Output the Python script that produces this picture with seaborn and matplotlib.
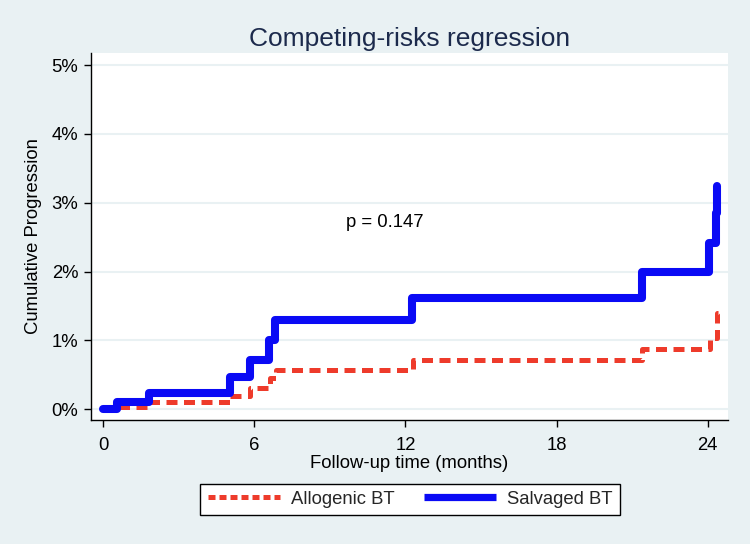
import matplotlib
matplotlib.use("Agg")
import matplotlib.pyplot as plt
import seaborn as sns
import pandas as pd
from matplotlib.ticker import FuncFormatter
from matplotlib.lines import Line2D

# Follow-up time (months) and cumulative progression (%)
salvaged_time = [0, 0.55, 1.8, 5.04, 5.83, 6.59, 6.83, 12.26, 21.4, 24.05, 24.33, 24.38]
salvaged_pct = [0, 0.10, 0.23, 0.47, 0.72, 1.00, 1.30, 1.62, 2.00, 2.42, 2.85, 3.24]
allogenic_time = [0, 0.6, 1.8, 5.04, 5.83, 6.6, 6.85, 12.3, 21.4, 24.1, 24.38, 24.42]
allogenic_pct = [0, 0.03, 0.10, 0.20, 0.31, 0.45, 0.57, 0.72, 0.88, 1.04, 1.40, 1.40]

x_ticks = [0, 6, 12, 18, 24]
y_ticks = [0, 1, 2, 3, 4, 5]
group_labels = ["Allogenic BT", "Salvaged BT"]
p_label = "p = 0.147"

BG = "#E9F1F3"
RED = "#EE3B2B"
BLUE = "#0A0AF5"
FS = 13.3

sns.set_theme(style="white")
plt.rcParams["font.family"] = ["Liberation Sans", "DejaVu Sans"]

salvaged = pd.DataFrame({"time": salvaged_time, "pct": salvaged_pct})
allogenic = pd.DataFrame({"time": allogenic_time, "pct": allogenic_pct})

fig = plt.figure(figsize=(7.5, 5.44), dpi=100, facecolor=BG)
ax = fig.add_axes([0.121, 0.228, 0.850, 0.675])
ax.set_facecolor("white")

# light horizontal grid like the Stata s2color scheme
for y in y_ticks:
    ax.axhline(y, color=BG, lw=1.5, zorder=0)

sns.lineplot(data=allogenic, x="time", y="pct", ax=ax, color=RED, lw=3.6,
             linestyle=(0, (2.2, 1.3)), drawstyle="steps-post",
             estimator=None, zorder=2)
sns.lineplot(data=salvaged, x="time", y="pct", ax=ax, color=BLUE, lw=5.8,
             drawstyle="steps-post", estimator=None, zorder=3)

ax.set_xlim(-0.5, 24.82)
ax.set_ylim(-0.155, 5.18)
ax.set_xticks(x_ticks)
ax.set_yticks(y_ticks)
ax.yaxis.set_major_formatter(FuncFormatter(lambda v, _: f"{v:.0f}%"))
ax.tick_params(axis="both", which="both", direction="out", length=5, width=1,
               color="black", labelsize=FS, labelcolor="black",
               left=True, bottom=True)
ax.tick_params(axis="x", pad=7)
ax.tick_params(axis="y", pad=4)

for side in ["top", "right"]:
    ax.spines[side].set_visible(False)
for side in ["left", "bottom"]:
    ax.spines[side].set_color("black")
    ax.spines[side].set_linewidth(1)

ax.set_xlabel("Follow-up time (months)", fontsize=FS, color="black", labelpad=1)
ax.set_ylabel("Cumulative Progression", fontsize=FS, color="black", labelpad=7)

ax.text(11.19, 2.72, p_label, fontsize=FS, ha="center", va="center", color="black")

# title is centred over the plot region, not the whole figure
fig.suptitle("Competing-risks regression", fontsize=19, color="#1C2A4C",
             x=0.546, y=0.95)

handles = [
    Line2D([], [], color=RED, lw=3.6, linestyle=(0, (1.4, 0.8)), dash_capstyle="butt"),
    Line2D([], [], color=BLUE, lw=5.2, solid_capstyle="butt"),
]
leg = fig.legend(handles, group_labels, loc="center", bbox_to_anchor=(0.547, 0.082),
                 ncol=2, frameon=True, fancybox=False, framealpha=1,
                 edgecolor="black", facecolor="white", fontsize=FS,
                 handlelength=3.9, handletextpad=0.6, columnspacing=1.6,
                 borderpad=0.4)
leg.get_frame().set_linewidth(1)

fig.savefig("out.png", dpi=100, facecolor=BG)
